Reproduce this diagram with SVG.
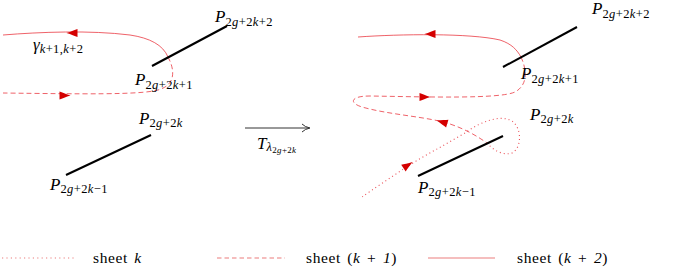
<svg xmlns="http://www.w3.org/2000/svg" width="700" height="269" viewBox="0 0 700 269">
<style>
  text { font-family: "Liberation Serif", "DejaVu Serif", serif; fill: #000; }
  .big { font-size: 17px; }
  .sub { font-size: 12.5px; letter-spacing: 0.4px; }
  .ssub { font-size: 9px; letter-spacing: 0.3px; }
  .it { font-style: italic; }
  .cut { stroke: #000; stroke-width: 2; fill: none; stroke-linecap: butt; }
  .c { fill: none; stroke: #e8303a; stroke-opacity: 0.85; stroke-width: 0.9; }
  .solid { }
  .dash { stroke-dasharray: 5 3; }
  .dot { stroke-dasharray: 1 3; stroke-width: 1.1; }
  .lg { fill: none; stroke: #f2a8a8; stroke-width: 1.3; }
  .ah { fill: #d40000; stroke: none; }
  .tarrow { fill: none; stroke: #333; stroke-width: 1; }
  .leg { font-size: 15.5px; letter-spacing: 0.6px; word-spacing: 2px; }
</style>
<defs>
  <path id="head" d="M 5.5,0 C 1,-1.5 -3,-3 -5.5,-4 L -5.5,4 C -3,3 1,1.5 5.5,0 Z"/>
</defs>

<g id="connectors">
  <!-- left panel: gamma -->
  <path class="c solid" d="M 3,35 C 40,32 90,30 130,35 C 150,38 163,45 168,57"/>
  <path class="c dash" d="M 168,57 C 175,70 176,85 158,90 C 140,95 80,94 3,93"/>
  <use href="#head" class="ah" transform="translate(72,33) rotate(180)"/>
  <use href="#head" class="ah" transform="translate(65,95.5)"/>

  <!-- right panel: transformed curve -->
  <path class="c solid" d="M 358,37 C 400,34 470,33 500,40 C 512,44 517,50 521,57"/>
  <path class="c dash" d="M 521,57 C 527,70 528,85 515,92 C 500,99 430,97 370,96 C 350,96 349,103 362,107 C 390,115 430,117 450,124 C 465,129 477,136 487,143"/>
  <path class="c dot" d="M 487,143 C 493,150 503,156 512,153 C 522,148 522,128 512,121 C 500,114 480,122 465,133 C 445,145 425,155 405,168 C 390,178 372,190 362,197"/>
  <use href="#head" class="ah" transform="translate(430,34) rotate(180)"/>
  <use href="#head" class="ah" transform="translate(425,97)"/>
  <use href="#head" class="ah" transform="translate(442,122) rotate(197)"/>
  <use href="#head" class="ah" transform="translate(408,165) rotate(-34)"/>

  <!-- transformation arrow -->
  <path class="tarrow" d="M 245,128 L 309,128"/>
  <path class="tarrow" d="M 302,124 Q 305,127 310,128 Q 305,129 302,132"/>
</g>

<g id="cut-left-top">
  <line class="cut" x1="152" y1="66" x2="227" y2="26"/>
  <text class="big" x="215" y="22"><tspan class="it">P</tspan><tspan class="sub" dy="4">2<tspan class="it">g</tspan>+2<tspan class="it">k</tspan>+2</tspan></text>
  <text class="big" x="135" y="85"><tspan class="it">P</tspan><tspan class="sub" dy="4">2<tspan class="it">g</tspan>+2<tspan class="it">k</tspan>+1</tspan></text>
</g>

<g id="gamma-label">
  <text class="big" x="33" y="50"><tspan class="it">γ</tspan><tspan class="sub" dy="3"><tspan class="it">k</tspan>+1,<tspan class="it">k</tspan>+2</tspan></text>
</g>

<g id="cut-left-bottom">
  <line class="cut" x1="66" y1="175" x2="151" y2="135"/>
  <text class="big" x="139" y="124"><tspan class="it">P</tspan><tspan class="sub" dy="3">2<tspan class="it">g</tspan>+2<tspan class="it">k</tspan></tspan></text>
  <text class="big" x="50" y="190"><tspan class="it">P</tspan><tspan class="sub" dy="3">2<tspan class="it">g</tspan>+2<tspan class="it">k</tspan>−1</tspan></text>
</g>

<g id="transform-label">
  <text class="big" x="257" y="149"><tspan class="it">T</tspan><tspan class="sub it" dy="2">λ</tspan><tspan class="ssub" dy="2">2<tspan class="it">g</tspan>+2<tspan class="it">k</tspan></tspan></text>
</g>

<g id="cut-right-top">
  <line class="cut" x1="503" y1="67" x2="577" y2="27"/>
  <text class="big" x="592" y="14"><tspan class="it">P</tspan><tspan class="sub" dy="4">2<tspan class="it">g</tspan>+2<tspan class="it">k</tspan>+2</tspan></text>
  <text class="big" x="521" y="79"><tspan class="it">P</tspan><tspan class="sub" dy="4">2<tspan class="it">g</tspan>+2<tspan class="it">k</tspan>+1</tspan></text>
</g>

<g id="cut-right-bottom">
  <line class="cut" x1="418" y1="176" x2="503" y2="136"/>
  <text class="big" x="530" y="120"><tspan class="it">P</tspan><tspan class="sub" dy="3">2<tspan class="it">g</tspan>+2<tspan class="it">k</tspan></tspan></text>
  <text class="big" x="418" y="193"><tspan class="it">P</tspan><tspan class="sub" dy="3">2<tspan class="it">g</tspan>+2<tspan class="it">k</tspan>−1</tspan></text>
</g>

<g id="legend">
  <line class="lg" x1="2" y1="258" x2="75" y2="258" stroke-dasharray="1.2 3.2"/>
  <text class="leg" x="93" y="263">sheet <tspan class="it">k</tspan></text>
  <line class="lg" x1="217" y1="258" x2="285" y2="258" stroke-dasharray="4.5 3"/>
  <text class="leg" x="306" y="263">sheet (<tspan class="it">k</tspan> + <tspan class="it">1</tspan>)</text>
  <line class="lg" x1="428" y1="258" x2="495" y2="258"/>
  <text class="leg" x="517" y="263">sheet (<tspan class="it">k</tspan> + <tspan class="it">2</tspan>)</text>
</g>
</svg>
